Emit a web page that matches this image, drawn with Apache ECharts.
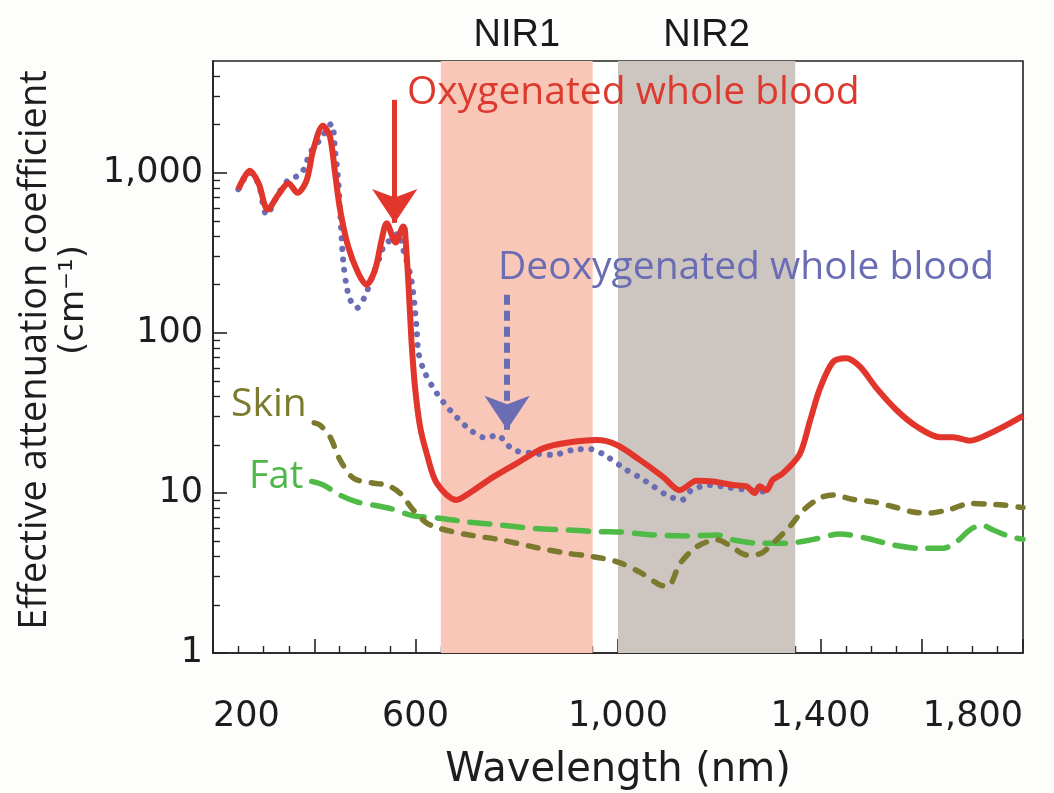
<!DOCTYPE html>
<html>
<head>
<meta charset="utf-8">
<script src="https://cdn.jsdelivr.net/npm/echarts@6.0.0/dist/echarts.min.js"></script>
<style>
html, body { margin: 0; padding: 0; background: #fdfdfb; }
#chart { width: 1054px; height: 793px; }
</style>
</head>
<body>
<div id="chart"></div>
<script>
// wavelength (nm), effective attenuation coefficient (cm-1)
const oxygenated = [
    [250, 790], [273, 1030], [290, 860], [308, 590], [329, 730], [349, 860], [367, 750],
    [385, 900], [398, 1390], [417, 1970], [431, 1690], [441, 1000], [451, 590], [467, 346],
    [487, 236], [503, 200], [520, 247], [533, 380], [543, 485], [561, 367], [576, 462],
    [579, 440], [586, 204], [592, 90], [599, 46], [609, 26], [622, 17.7], [642, 11.5],
    [681, 9.04], [707, 10], [754, 12.6], [800, 15.3], [852, 19], [899, 20.6], [958, 21.4],
    [997, 20], [1043, 16.1], [1089, 12.6], [1122, 10.4], [1155, 11.9], [1188, 11.8],
    [1228, 11.2], [1254, 11], [1270, 10], [1280, 11], [1293, 10.4], [1306, 12.1],
    [1326, 13.3], [1359, 17.5], [1379, 28], [1399, 45], [1425, 66], [1451, 69.5],
    [1478, 61.5], [1511, 45], [1550, 33], [1590, 26], [1636, 22.3], [1662, 22.3],
    [1695, 21.2], [1728, 23], [1768, 26.6], [1800, 30.3]
]
const deoxygenated = [
    [250, 790], [273, 1000], [290, 850], [306, 547], [329, 740], [349, 903], [374, 986],
    [392, 1334], [411, 1607], [434, 2024], [441, 1393], [447, 926], [451, 587], [457, 286],
    [464, 195], [471, 161], [484, 143], [500, 169], [517, 236], [530, 300], [540, 363],
    [553, 380], [566, 420], [576, 330], [592, 214], [602, 110], [606, 75], [619, 56],
    [642, 42], [668, 33], [708, 24.8], [741, 22], [760, 23], [793, 18.6], [833, 17.7],
    [872, 17.3], [912, 18.6], [945, 18.8], [978, 16.9], [1017, 13.9], [1043, 12.5],
    [1070, 11], [1096, 9.7], [1126, 9.04], [1145, 10.4], [1180, 11.2], [1220, 10.8],
    [1260, 10.4], [1286, 10.2]
]
const skin = [
    [400, 27.4], [411, 26.6], [431, 22.5], [451, 16.1], [477, 12.4], [517, 11.5], [543, 11.2],
    [569, 10], [596, 7.8], [622, 6.5], [648, 6.0], [701, 5.5], [767, 5.1], [833, 4.6],
    [899, 4.2], [951, 4.0], [1000, 3.7], [1043, 3.2], [1083, 2.66], [1099, 2.62],
    [1122, 3.6], [1155, 4.6], [1195, 5.1], [1221, 4.7], [1254, 4.1], [1280, 4.16],
    [1306, 4.85], [1340, 6.2], [1366, 7.8], [1399, 9.3], [1425, 9.7], [1465, 9.1],
    [1504, 8.8], [1544, 8.2], [1583, 7.6], [1616, 7.5], [1656, 7.9], [1695, 8.6],
    [1735, 8.5], [1761, 8.4], [1800, 8.1]
]
const fat = [
    [395, 11.8], [418, 11.2], [451, 9.7], [484, 8.8], [517, 8.4], [550, 8.0], [596, 7.2],
    [648, 6.95], [701, 6.6], [767, 6.3], [833, 6.0], [899, 5.87], [964, 5.73], [1004, 5.7],
    [1070, 5.47], [1136, 5.38], [1195, 5.47], [1228, 5.08], [1280, 4.85], [1333, 4.85],
    [1386, 5.13], [1438, 5.54], [1491, 5.21], [1544, 4.73], [1596, 4.51], [1642, 4.51],
    [1669, 4.96], [1695, 5.87], [1718, 6.31], [1741, 5.87], [1774, 5.34], [1800, 5.13]
]
const nir1 = [650, 950]
const nir2 = [1000, 1350]
const oxyArrow = [[559, 2860], [559, 487]]
const deoxyArrow = [[781, 173], [781, 24.8]]
const xTickLabels = [200, 600, 1000, 1400, 1800]
const yRange = [1, 5000]
const yMinorTicks = [2, 3, 4, 5, 6, 7, 8, 9, 20, 30, 40, 50, 60, 70, 80, 90,
    200, 300, 400, 500, 600, 700, 800, 900, 2000, 3000, 4000]

const axisColor = '#222'
const labelFont = { fontFamily: 'DejaVu Sans', fontSize: 35, color: '#1d1d1d' }
const textFont = 'Open Sans'

const chart = echarts.init(document.getElementById('chart'), null, { renderer: 'canvas' })
const option = {
    animation: false,
    backgroundColor: '#fdfdfb',
    grid: {
        left: 213,
        right: 31,
        top: 61,
        bottom: 140,
        outerBoundsMode: 'none',
        containLabel: false,
        show: true,
        backgroundColor: '#ffffff',
        borderColor: axisColor,
        borderWidth: 1.6,
    },
    xAxis: {
        type: 'value',
        min: 200,
        max: 1800,
        interval: 200,
        axisLine: { lineStyle: { color: axisColor, width: 1.6 } },
        axisTick: { inside: true, length: 14, lineStyle: { color: axisColor, width: 1.6 } },
        minorTick: { show: true, splitNumber: 4, length: 7, lineStyle: { color: axisColor, width: 1.4 } },
        splitLine: { show: false },
        axisLabel: {
            ...labelFont,
            customValues: xTickLabels,
            margin: 46,
            alignMinLabel: 'left',
            alignMaxLabel: 'right',
            formatter: v => v.toLocaleString('en-US'),
        },
        name: 'Wavelength (nm)',
        nameLocation: 'middle',
        nameGap: 98,
        nameTextStyle: { fontFamily: 'DejaVu Sans', fontSize: 40, color: '#1d1d1d' },
    },
    yAxis: [
        {
            type: 'log',
            logBase: 10,
            min: yRange[0],
            max: yRange[1],
            axisLine: { show: true, lineStyle: { color: axisColor, width: 1.6 } },
            axisTick: { inside: true, length: 14, lineStyle: { color: axisColor, width: 1.6 } },
            splitLine: { show: false },
            axisLabel: {
                ...labelFont,
                margin: 10,
                showMaxLabel: false,
                formatter: v => (Math.abs(Math.log10(v) % 1) < 1e-6 ? v.toLocaleString('en-US') : ''),
            },
        },
        {
            // minor ticks of the log axis, on a linear axis in decades
            type: 'value',
            min: Math.log10(yRange[0]),
            max: Math.log10(yRange[1]),
            position: 'left',
            axisLine: { show: false },
            axisLabel: { show: false },
            splitLine: { show: false },
            axisTick: {
                inside: true,
                length: 7,
                customValues: yMinorTicks.map(Math.log10),
                lineStyle: { color: axisColor, width: 1.4 },
            },
        },
    ],
    graphic: {
        elements: [
            {
                type: 'text', x: 407, y: 93, z: 100,
                style: { text: 'Oxygenated whole blood', fontFamily: textFont, fontSize: 39, fill: '#dc3a2f', align: 'left', verticalAlign: 'middle' },
            },
            {
                type: 'text', x: 498, y: 268, z: 100,
                style: { text: 'Deoxygenated whole blood', fontFamily: textFont, fontSize: 39, fill: '#6a6db4', align: 'left', verticalAlign: 'middle' },
            },
            {
                type: 'text', x: 231, y: 405, z: 100,
                style: { text: 'Skin', fontFamily: textFont, fontSize: 39, fill: '#7b7a2e', align: 'left', verticalAlign: 'middle' },
            },
            {
                type: 'text', x: 249, y: 477, z: 100,
                style: { text: 'Fat', fontFamily: textFont, fontSize: 38, fill: '#4db848', align: 'left', verticalAlign: 'middle' },
            },
            {
                type: 'text', x: 35, y: 350, rotation: Math.PI / 2, z: 100,
                style: { text: 'Effective attenuation coefficient', fontFamily: textFont, fontSize: 38, fill: '#1d1d1d', align: 'center', verticalAlign: 'middle' },
            },
            {
                type: 'text', x: 74, y: 300, rotation: Math.PI / 2, z: 100,
                style: { text: '(cm\u207B\u00B9)', fontFamily: 'DejaVu Sans', fontSize: 34, fill: '#1d1d1d', align: 'center', verticalAlign: 'middle' },
            },
        ],
    },
    series: [
        {
            name: 'bands',
            type: 'line',
            data: [],
            z: 1,
            markArea: {
                silent: true,
                label: {
                    show: true,
                    position: 'top',
                    distance: 6,
                    fontFamily: 'Liberation Sans',
                    fontSize: 38,
                    color: '#1a1a1a',
                },
                data: [
                    [{ name: 'NIR1', xAxis: nir1[0], itemStyle: { color: '#f9c7b8' } }, { xAxis: nir1[1] }],
                    [{ name: 'NIR2', xAxis: nir2[0], itemStyle: { color: '#cdc6c0' } }, { xAxis: nir2[1] }],
                ],
            },
        },
        {
            name: 'Fat',
            type: 'line',
            data: fat,
            smooth: 0.3,
            showSymbol: false,
            z: 3,
            lineStyle: { color: '#4fbb46', width: 5.5, type: [20, 13], cap: 'round' },
        },
        {
            name: 'Skin',
            type: 'line',
            data: skin,
            smooth: 0.3,
            showSymbol: false,
            z: 3,
            lineStyle: { color: '#7b7a2e', width: 5.5, type: [10, 12], cap: 'round' },
        },
        {
            name: 'Deoxygenated whole blood',
            type: 'line',
            data: deoxygenated,
            smooth: 0.3,
            showSymbol: false,
            z: 4,
            lineStyle: { color: '#6a6db4', width: 6, type: [0.1, 10.5], cap: 'round' },
            markLine: {
                silent: true,
                symbol: ['none', 'arrow'],
                symbolSize: 34,
                label: { show: false },
                lineStyle: { color: '#6a6db4', width: 6, type: [10, 6] },
                data: [[{ coord: deoxyArrow[0] }, { coord: deoxyArrow[1] }]],
            },
        },
        {
            name: 'Oxygenated whole blood',
            type: 'line',
            data: oxygenated,
            smooth: 0.3,
            showSymbol: false,
            z: 5,
            lineStyle: { color: '#e2352b', width: 6 },
            markLine: {
                silent: true,
                symbol: ['none', 'arrow'],
                symbolSize: 34,
                label: { show: false },
                lineStyle: { color: '#e2352b', width: 5, type: 'solid' },
                data: [[{ coord: oxyArrow[0] }, { coord: oxyArrow[1] }]],
            },
        },
    ],
}
chart.setOption(option)
</script>
</body>
</html>
